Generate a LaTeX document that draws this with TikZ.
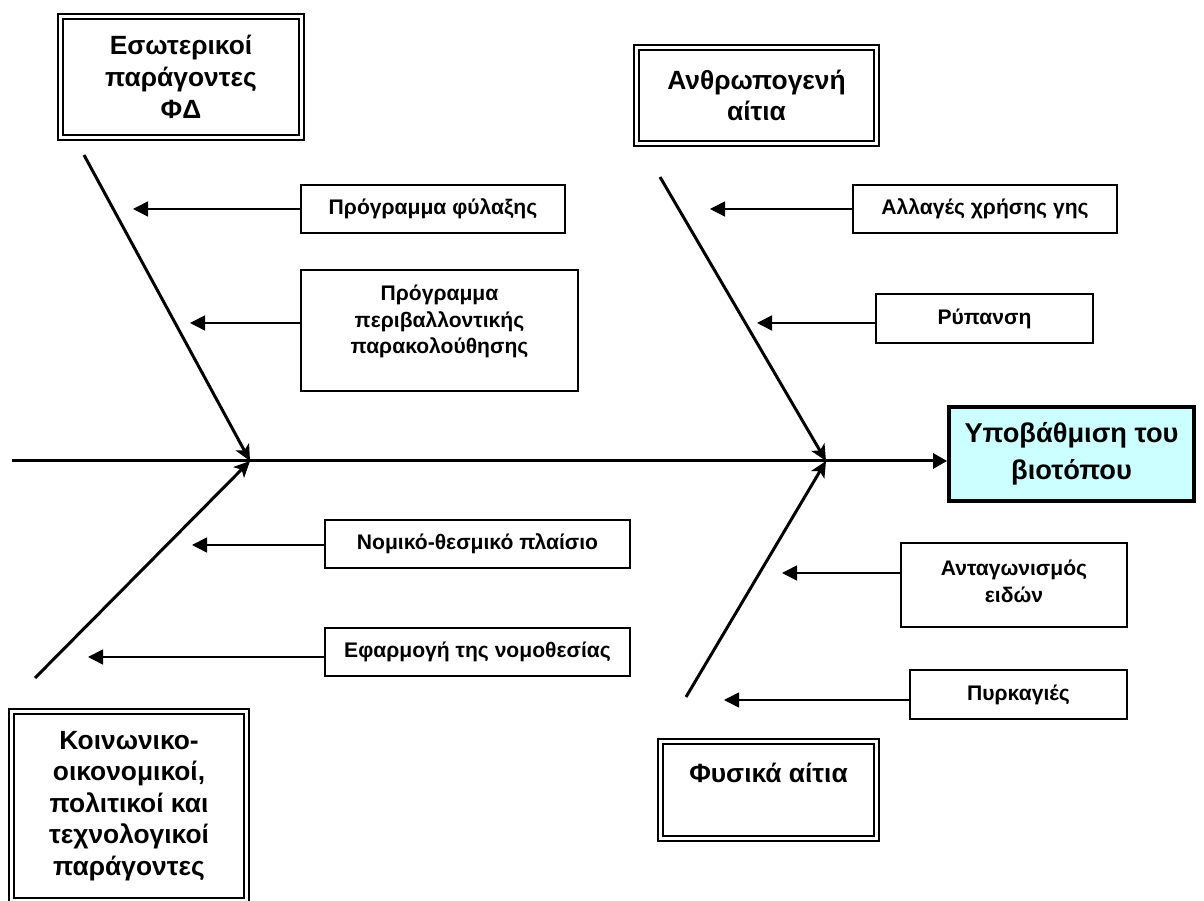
\documentclass[tikz,border=0pt]{standalone}
\usepackage{fontspec}
\setmainfont{Liberation Sans}
\usetikzlibrary{arrows.meta}

\definecolor{goalfill}{HTML}{CCFFFF}

\tikzset{
  bigbox/.style={draw, double, line width=1.1pt, double distance=2pt, align=center,
    font=\bfseries\fontsize{15}{18}\selectfont},
  smallbox/.style={draw, line width=0.9pt, align=center, inner sep=0pt,
    font=\bfseries\fontsize{12}{15.3}\selectfont},
  goalbox/.style={draw, line width=2.2pt, fill=goalfill, align=center,
    font=\bfseries\fontsize{15.5}{21}\selectfont},
  bone/.style={line width=1.7pt, -{Stealth[length=0.32cm,width=0.3cm,inset=0.08cm]}},
  cause/.style={line width=0.9pt, -{Triangle[length=0.3cm,width=0.3cm]}}
}

\begin{document}
\begin{tikzpicture}
  \clip (0,0) rectangle (24.08,18.02);
  \fill[white] (0,0) rectangle (24.08,18.02);

  % main categories
  \node[bigbox, minimum width=4.82cm, minimum height=2.42cm] (esot) at (3.62,16.48)
    {Εσωτερικοί\\παράγοντες\\ΦΔ};
  \node[bigbox, minimum width=4.80cm, minimum height=1.92cm] (anthr) at (15.13,16.11)
    {Ανθρωπογενή\\αίτια};
  \node[bigbox, minimum width=4.70cm, minimum height=3.78cm] (koin) at (2.58,1.9)
    {Κοινωνικο-\\οικονομικοί,\\πολιτικοί και\\τεχνολογικοί\\παράγοντες};
  \node[bigbox, minimum width=4.32cm, minimum height=1.94cm, text depth=0.69cm] (fys) at (15.37,2.22)
    {Φυσικά αίτια};

  % effect
  \node[goalbox, minimum width=4.9cm, minimum height=1.88cm] (goal) at (21.43,8.94)
    {Υποβάθμιση του\\βιοτόπου};

  % causes
  \node[smallbox, minimum width=5.28cm, minimum height=0.96cm] (fyl) at (8.66,13.84) {Πρόγραμμα φύλαξης};
  \node[smallbox, minimum width=5.54cm, minimum height=2.42cm, text depth=0.45cm] (peri) at (8.79,11.41)
    {Πρόγραμμα\\περιβαλλοντικής\\παρακολούθησης};
  \node[smallbox, minimum width=6.10cm, minimum height=0.96cm] (nom) at (9.55,7.14) {Νομικό-θεσμικό πλαίσιο};
  \node[smallbox, minimum width=6.10cm, minimum height=0.96cm] (efa) at (9.55,4.98) {Εφαρμογή της νομοθεσίας};
  \node[smallbox, minimum width=5.28cm, minimum height=0.96cm] (all) at (19.7,13.84) {Αλλαγές χρήσης γης};
  \node[smallbox, minimum width=4.34cm, minimum height=0.98cm] (ryp) at (19.69,11.65) {Ρύπανση};
  \node[smallbox, minimum width=4.52cm, minimum height=1.68cm, text depth=0.16cm] (anta) at (20.28,6.32)
    {Ανταγωνισμός\\ειδών};
  \node[smallbox, minimum width=4.34cm, minimum height=0.98cm] (pyr) at (20.37,4.13) {Πυρκαγιές};

  % skeleton
  \coordinate (tail) at (0.24,8.8);
  \coordinate (jl) at (5.0,8.8);
  \coordinate (jr) at (16.52,8.8);
  \coordinate (tl) at (1.68,14.92);
  \coordinate (bl) at (0.70,4.46);
  \coordinate (tr) at (13.2,14.48);
  \coordinate (br) at (13.72,4.08);

  \draw[bone, -{Triangle[length=0.28cm,width=0.3cm]}] (tail) -- (tail -| goal.west);
  \draw[bone] (tl) -- (jl);
  \draw[bone] (bl) -- (jl);
  \draw[bone] (tr) -- (jr);
  \draw[bone] (br) -- (jr);

  % arrow tips next to the bones
  \coordinate (t1) at (2.66,13.84);
  \coordinate (t2) at (3.80,11.56);
  \coordinate (t3) at (3.84,7.12);
  \coordinate (t4) at (1.76,4.88);
  \coordinate (t5) at (14.2,13.84);
  \coordinate (t6) at (15.14,11.56);
  \coordinate (t7) at (15.64,6.56);
  \coordinate (t8) at (14.48,4.02);

  \draw[cause] (t1 -| fyl.west) -- (t1);
  \draw[cause] (t2 -| peri.west) -- (t2);
  \draw[cause] (t3 -| nom.west) -- (t3);
  \draw[cause] (t4 -| efa.west) -- (t4);
  \draw[cause] (t5 -| all.west) -- (t5);
  \draw[cause] (t6 -| ryp.west) -- (t6);
  \draw[cause] (t7 -| anta.west) -- (t7);
  \draw[cause] (t8 -| pyr.west) -- (t8);
\end{tikzpicture}
\end{document}
